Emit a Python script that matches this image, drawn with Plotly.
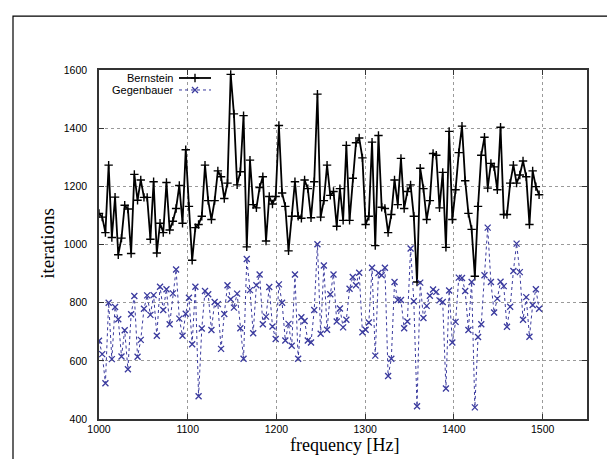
import numpy as np
import plotly.graph_objects as go

# ---- data ----
n_points = 138
f_start, f_end = 1000.0, 1496.0
frequency = np.linspace(f_start, f_end, n_points)  # evenly spaced frequency grid

bernstein = [
    1107, 1094, 1041, 1273, 1024, 1163, 965, 1022, 1135, 1122, 969, 1241, 1152, 1222, 1162,
    1162, 1018, 1216, 971, 1073, 1041, 1213, 1050, 1080, 1124, 1203, 1073, 1326, 1131,
    946, 1058, 1069, 1097, 1273, 1151, 1086, 1151, 1253, 1233, 1158, 1211, 1585, 1449, 1205,
    1250, 1443, 992, 1290, 1137, 1126, 1196, 1233, 1012, 1165, 1139, 1165, 1409, 1177, 1131, 978,
    1097, 1216, 1097, 1090, 1222, 1192, 1092, 1216, 1517, 1094, 1151, 1273, 1169, 1182, 1063,
    1192, 1083, 1341, 1083, 1228, 1350, 1366, 1298, 1069, 1097, 1352, 996, 1375, 1128, 1124,
    1041,
    1103, 1222, 1137, 1296, 1124, 1182, 1205, 1097, 871, 1262, 1192, 1086, 1151, 1313, 1307,
    1126, 1248, 990, 1389, 1086, 1188, 1316, 1407, 1219, 1107, 1052, 891, 1131, 1307, 1369, 1194,
    1279, 1267, 1188, 1403, 1103, 1103, 1211, 1273, 1211, 1239, 1287, 1233, 1069, 1253, 1199, 1171,
]

gegenbauer = [
    669, 623, 523, 800, 606, 785, 743, 615, 705, 571, 760, 823, 614, 672, 779, 825, 758, 826,
    686, 855, 775, 846, 726, 832, 914, 745, 686, 762, 817, 657, 855, 478, 711, 840, 829, 706, 802,
    795, 641, 761, 860, 812, 783, 831, 712, 607, 950, 843, 695, 860, 897, 726, 752, 854, 718,
    675, 863, 800, 670, 727,
    652, 897, 607, 750, 737, 670, 663, 775, 1001, 693, 928, 707, 829, 897, 735, 780, 715, 741,
    848, 888, 860, 903, 698, 707, 732, 920, 618, 902, 894, 920, 548,
    607, 871, 809, 809, 712, 735, 986, 805, 444,
    869, 747, 789, 824, 845, 837, 808, 802, 505,
    842, 663, 734, 886, 885, 840, 706, 871, 440, 682, 726, 894, 1058,
    871, 766, 814, 872, 857, 717, 786, 909, 1003, 905, 741, 819, 683, 792, 846, 779,
]

x_ticks = [1000, 1100, 1200, 1300, 1400, 1500]
y_ticks = [400, 600, 800, 1000, 1200, 1400, 1600]
series_names = ["Bernstein", "Gegenbauer"]

# ---- styling ----
W, H = 615, 459
L, R, T, B = 91, 36, 62, 47.5
pw, ph = W - L - R, H - T - B
BLACK = "#000000"
BLUE = "#3a3a9e"


def px_x(p):
    return (p - L) / pw


def px_y(p):
    return (H - B - p) / ph


fig = go.Figure()

fig.add_trace(go.Scatter(
    x=frequency, y=bernstein, mode="lines+markers", name=series_names[0],
    line=dict(color=BLACK, width=1.8),
    marker=dict(symbol="cross-thin", size=6, line=dict(color=BLACK, width=1.4)),
    showlegend=False,
))
fig.add_trace(go.Scatter(
    x=frequency, y=gegenbauer, mode="lines+markers", name=series_names[1],
    line=dict(color=BLUE, width=1, dash="dot"),
    marker=dict(symbol="x-thin", size=6, line=dict(color=BLUE, width=1.3)),
    showlegend=False,
))

# legend samples (gnuplot style: text on left, sample on the right)
leg_y = [px_y(70), px_y(82)]
fig.add_trace(go.Scatter(
    x=[px_x(171), px_x(203)], y=[leg_y[0]] * 2, mode="lines", xaxis="x2", yaxis="y2",
    line=dict(color=BLACK, width=1.8), showlegend=False, hoverinfo="skip"))
fig.add_trace(go.Scatter(
    x=[px_x(187)], y=[leg_y[0]], mode="markers", xaxis="x2", yaxis="y2",
    marker=dict(symbol="cross-thin", size=6, line=dict(color=BLACK, width=1.4)),
    showlegend=False, hoverinfo="skip"))
fig.add_trace(go.Scatter(
    x=[px_x(171), px_x(203)], y=[leg_y[1]] * 2, mode="lines", xaxis="x2", yaxis="y2",
    line=dict(color=BLUE, width=1, dash="dot"), showlegend=False, hoverinfo="skip"))
fig.add_trace(go.Scatter(
    x=[px_x(187)], y=[leg_y[1]], mode="markers", xaxis="x2", yaxis="y2",
    marker=dict(symbol="x-thin", size=6, line=dict(color=BLUE, width=1.3)),
    showlegend=False, hoverinfo="skip"))

for name, yy in zip(series_names, leg_y):
    fig.add_annotation(
        x=px_x(167), y=yy, xref="paper", yref="paper", text=name, showarrow=False,
        xanchor="right", yanchor="middle",
        font=dict(family="Liberation Sans, Arial, sans-serif", size=11, color=BLACK))

fig.add_annotation(
    x=px_x(40), y=px_y(236), xref="paper", yref="paper", text="iterations", showarrow=False,
    textangle=-90, xanchor="center", yanchor="middle",
    font=dict(family="Liberation Serif, Times New Roman, serif", size=19, color=BLACK))
fig.add_annotation(
    x=px_x(336), y=px_y(438), xref="paper", yref="paper", text="frequency [Hz]", showarrow=False,
    xanchor="center", yanchor="middle",
    font=dict(family="Liberation Serif, Times New Roman, serif", size=18, color=BLACK))

# outer image frame
fig.add_shape(type="rect", xref="paper", yref="paper",
              x0=px_x(5), x1=px_x(611), y0=px_y(475), y1=px_y(8),
              line=dict(color=BLACK, width=1.2), fillcolor="rgba(0,0,0,0)", layer="above")

axis_common = dict(
    showline=True, linecolor="#333333", linewidth=1.5, mirror="ticks",
    ticks="inside", ticklen=5, tickcolor="#333333", tickwidth=1,
    showgrid=True, gridcolor="#9a9a9a", gridwidth=0.8, griddash="dot",
    zeroline=False,
    tickfont=dict(family="Liberation Sans, Arial, sans-serif", size=10.5, color=BLACK),
)

fig.update_layout(
    width=W, height=H,
    margin=dict(l=L, r=R, t=T, b=B),
    paper_bgcolor="white", plot_bgcolor="white",
    xaxis=dict(range=[1000, 1550], tickvals=x_ticks, ticklabelstandoff=0, **axis_common),
    yaxis=dict(range=[400, 1600], tickvals=y_ticks, ticklabelstandoff=8, **axis_common),
    xaxis2=dict(range=[0, 1], overlaying="x", visible=False, fixedrange=True),
    yaxis2=dict(range=[0, 1], overlaying="y", visible=False, fixedrange=True),
    showlegend=False,
)

fig.write_html("out.html")
